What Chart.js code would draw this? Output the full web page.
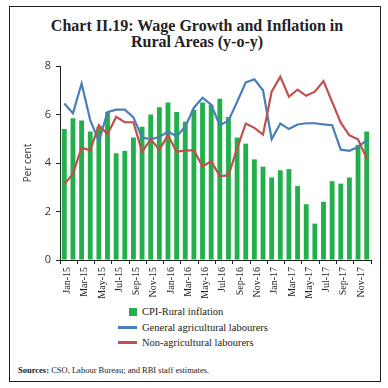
<!DOCTYPE html>
<html>
<head>
<meta charset="UTF-8">
<title>Chart II.19</title>
<script src="https://cdn.jsdelivr.net/npm/chart.js"></script>
<style>
  body { margin: 0; width: 388px; height: 388px; background: #fff; position: relative; overflow: hidden; }
  #frame { position: absolute; left: 9px; top: 6px; width: 370px; height: 374px; border: 1px solid #222; }
  #title { position: absolute; left: 0; top: 18px; width: 394px; text-align: center;
           font: bold 16px "Liberation Serif", serif; line-height: 16px; color: #222; }
  #wrap { position: absolute; left: 0; top: 0; width: 388px; height: 300px; }
  #legend { position: absolute; left: 118px; top: 304px; font: 10.5px "Liberation Serif", serif; color: #222; }
  .item { position: relative; height: 15.5px; padding-left: 24px; line-height: 15px; }
  .sq { position: absolute; left: 11px; top: 4px; width: 8px; height: 8px; }
  .ln { position: absolute; left: 0; top: 6px; width: 19px; height: 3px; }
  #src { position: absolute; left: 18px; top: 365px; font: 8.5px "Liberation Serif", serif; color: #222; }
</style>
</head>
<body>
<div id="frame"></div>
<div id="title">Chart II.19: Wage Growth and Inflation in<br>Rural Areas (y-o-y)</div>
<div id="wrap"><canvas id="chart"></canvas></div>
<div id="legend">
  <div class="item"><span class="sq" style="background:#21b04b"></span>CPI-Rural inflation</div>
  <div class="item"><span class="ln" style="background:#4a7ebb"></span>General agricultural labourers</div>
  <div class="item"><span class="ln" style="background:#c0504d"></span>Non-agricultural labourers</div>
</div>
<div id="src"><b>Sources:</b> CSO, Labour Bureau; and RBI staff estimates.</div>
<script>
// monthly labels Jan-15 .. Dec-17
const months = [
  'Jan-15','Feb-15','Mar-15','Apr-15','May-15','Jun-15','Jul-15','Aug-15','Sep-15','Oct-15','Nov-15','Dec-15',
  'Jan-16','Feb-16','Mar-16','Apr-16','May-16','Jun-16','Jul-16','Aug-16','Sep-16','Oct-16','Nov-16','Dec-16',
  'Jan-17','Feb-17','Mar-17','Apr-17','May-17','Jun-17','Jul-17','Aug-17','Sep-17','Oct-17','Nov-17','Dec-17'
];

const cpiRural = [
  5.4, 5.85, 5.75, 5.3, 5.5, 6.1, 4.4, 4.5, 5.05, 5.5, 6.0, 6.3,
  6.5, 6.1, 5.7, 6.2, 6.5, 6.4, 6.65, 5.9, 5.05, 4.8, 4.15, 3.85,
  3.4, 3.7, 3.75, 3.05, 2.3, 1.5, 2.4, 3.25, 3.15, 3.4, 4.75, 5.3
];

const generalAgri = [
  6.45, 6.05, 7.28, 5.77, 4.9, 6.1, 6.2, 6.2, 5.88, 5.05, 4.98, 5.07,
  5.3, 5.1, 5.5, 6.28, 6.69, 6.4, 5.56, 5.74, 6.52, 7.32, 7.45, 7.0,
  4.98, 5.63, 5.4, 5.59, 5.64, 5.64, 5.59, 5.56, 4.55, 4.5, 4.66, 4.94
];

const nonAgri = [
  3.12, 3.56, 4.63, 4.52, 5.56, 5.19, 5.9, 5.68, 5.68, 4.46, 4.98, 4.55,
  5.14, 4.46, 4.52, 4.52, 3.86, 4.07, 3.46, 3.49, 4.59, 5.63, 5.45, 5.17,
  6.94, 7.56, 6.73, 7.03, 6.77, 6.94, 7.38, 6.52, 5.66, 5.14, 4.98, 4.18
];

const yTicks = [0, 2, 4, 6, 8];

new Chart(document.getElementById('chart'), {
  type: 'bar',
  data: {
    labels: months,
    datasets: [
      {
        label: 'General agricultural labourers',
        type: 'line',
        data: generalAgri,
        borderColor: '#4a7ebb',
        borderWidth: 2.2,
        pointRadius: 0,
        tension: 0,
        order: 2
      },
      {
        label: 'Non-agricultural labourers',
        type: 'line',
        data: nonAgri,
        borderColor: '#c0504d',
        borderWidth: 2.2,
        pointRadius: 0,
        tension: 0,
        order: 1
      },
      {
        label: 'CPI-Rural inflation',
        data: cpiRural,
        backgroundColor: '#21b04b',
        barPercentage: 0.56,
        categoryPercentage: 1,
        order: 3
      }
    ]
  },
  options: {
    responsive: true,
    maintainAspectRatio: false,
    animation: false,
    layout: { padding: { left: 0, right: 17, top: 66, bottom: 0 } },
    plugins: { legend: { display: false }, tooltip: { enabled: false } },
    scales: {
      x: {
        offset: true,
        afterFit: s => { s.height = 40; },
        border: { display: true, color: '#222', width: 1 },
        grid: {
          offset: true,
          drawOnChartArea: false,
          tickLength: 4,
          tickColor: c => (c.index === undefined || c.index % 2 === 0) ? '#222' : 'rgba(0,0,0,0)'
        },
        ticks: {
          autoSkip: false,
          maxRotation: 90,
          minRotation: 90,
          padding: 3,
          labelOffset: 3,
          color: '#222',
          font: { family: 'Liberation Serif', size: 10 },
          callback: (v, i) => i % 2 === 0 ? months[i] : ''
        }
      },
      y: {
        min: 0,
        max: 8,
        afterFit: s => { s.width = 60; },
        afterBuildTicks: s => { s.ticks = yTicks.map(v => ({ value: v })); },
        border: { display: true, color: '#222', width: 1 },
        grid: { drawOnChartArea: false, tickLength: 4, tickColor: '#222' },
        ticks: {
          padding: 5,
          color: '#333',
          font: { family: 'Open Sans', size: 11 }
        },
        title: {
          display: true,
          text: 'Per cent',
          color: '#333',
          padding: { top: 22, bottom: 0 },
          font: { family: 'Open Sans', size: 10 }
        }
      }
    }
  }
});
</script>
</body>
</html>
